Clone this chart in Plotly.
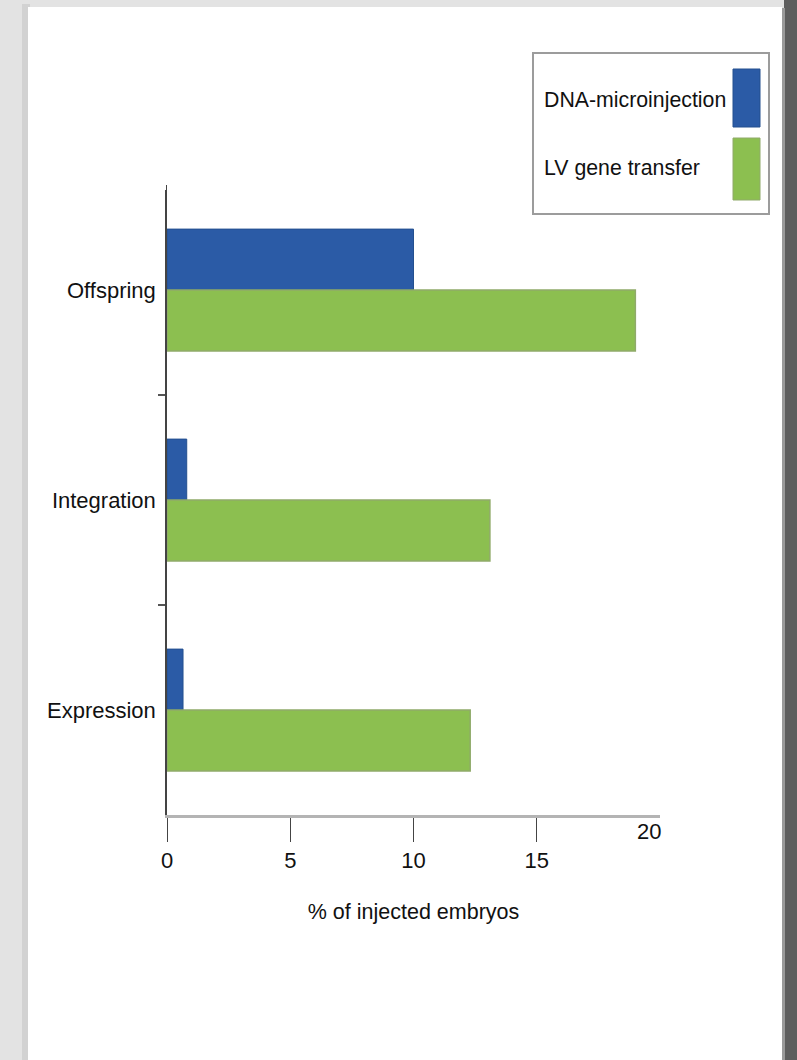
import plotly.graph_objects as go

# Data
categories = ["Offspring", "Integration", "Expression"]
dna_microinjection = [10.0, 0.8, 0.65]
lv_gene_transfer = [19.0, 13.1, 12.3]
x_ticks = [0, 5, 10, 15]
x_tick_labels = ["0", "5", "10", "15"]
series_names = ["DNA-microinjection", "LV gene transfer"]

BLUE = "#2B5BA6"
GREEN = "#8CBF50"
FONT = "Liberation Sans Narrow, Arial Narrow, Liberation Sans, Arial, sans-serif"

W, H = 797, 1060
ML, MR, MT, MB = 167, 137, 185, 245
PW, PH = W - ML - MR, H - MT - MB


def px(x):
    """Pixel column -> paper x."""
    return (x - ML) / PW


def py(y):
    """Pixel row -> paper y."""
    return (H - MB - y) / PH


fig = go.Figure()
fig.add_trace(go.Bar(
    y=categories, x=dna_microinjection, orientation="h", name=series_names[0],
    marker=dict(color=BLUE, line=dict(color="#24508F", width=1)),
    showlegend=False,
))
fig.add_trace(go.Bar(
    y=categories, x=lv_gene_transfer, orientation="h", name=series_names[1],
    marker=dict(color=GREEN, line=dict(color="#90AA6A", width=1.5)),
    showlegend=False,
))

shapes = [
    # page frame: light left margin, dark right edge, white card
    dict(type="rect", xref="paper", yref="paper", x0=px(0), x1=px(W), y0=py(H), y1=py(0),
         fillcolor="#E3E3E3", line_width=0, layer="below"),
    dict(type="rect", xref="paper", yref="paper", x0=px(22), x1=px(30), y0=py(H), y1=py(4),
         fillcolor="#D2D2D2", line_width=0, layer="below"),
    dict(type="rect", xref="paper", yref="paper", x0=px(784), x1=px(W), y0=py(H), y1=py(0),
         fillcolor="#5E5E5E", line_width=0, layer="below"),
    dict(type="rect", xref="paper", yref="paper", x0=px(780), x1=px(785), y0=py(H), y1=py(8),
         fillcolor="#9A9A9A", line_width=0, layer="below"),
    dict(type="rect", xref="paper", yref="paper", x0=px(28), x1=px(782), y0=py(H), y1=py(7),
         fillcolor="white", line_width=0, layer="below"),
    # hide the category tick at the top of the axis
    dict(type="rect", xref="paper", yref="paper", x0=px(155), x1=px(166), y0=py(190), y1=py(180),
         fillcolor="white", line_width=0, layer="above"),
    # legend box
    dict(type="rect", xref="paper", yref="paper", x0=px(533), x1=px(769), y0=py(214), y1=py(53),
         fillcolor="white", line=dict(color="#9C9C9C", width=2)),
    dict(type="rect", xref="paper", yref="paper", x0=px(733), x1=px(760), y0=py(127), y1=py(69),
         fillcolor=BLUE, line=dict(color="#24508F", width=1)),
    dict(type="rect", xref="paper", yref="paper", x0=px(733), x1=px(760), y0=py(200), y1=py(138),
         fillcolor=GREEN, line=dict(color="#90AA6A", width=1)),
]

annotations = [
    dict(xref="paper", yref="paper", x=px(542), y=py(100), text=series_names[0],
         showarrow=False, xanchor="left", yanchor="middle",
         font=dict(family=FONT, size=21.3, color="#111111")),
    dict(xref="paper", yref="paper", x=px(542), y=py(168), text=series_names[1],
         showarrow=False, xanchor="left", yanchor="middle",
         font=dict(family=FONT, size=21.3, color="#111111")),
    # last tick label of the value axis
    dict(xref="x", yref="paper", x=19.55, y=py(832), text="20",
         showarrow=False, xanchor="center", yanchor="middle",
         font=dict(family=FONT, size=22, color="#111111")),
]

fig.update_layout(
    width=W, height=H,
    margin=dict(l=ML, r=MR, t=MT, b=MB, pad=0),
    paper_bgcolor="white", plot_bgcolor="rgba(0,0,0,0)",
    barmode="group", bargap=0.42, bargroupgap=0.0,
    font=dict(family=FONT, size=22, color="#111111"),
    shapes=shapes, annotations=annotations,
    xaxis=dict(
        range=[0, 20], tickvals=x_ticks, ticktext=x_tick_labels,
        ticks="outside", ticklen=24, tickwidth=1, tickcolor="#444444",
        showline=True, linecolor="#B4B4B4", linewidth=3,
        showgrid=False, zeroline=False,
        tickfont=dict(family=FONT, size=22, color="#111111"),
        title=dict(text="% of injected embryos", standoff=32,
                   font=dict(family=FONT, size=21.5, color="#111111")),
    ),
    yaxis=dict(
        categoryorder="array", categoryarray=categories, autorange="reversed",
        tickson="boundaries", ticks="outside", ticklen=7, tickwidth=2, tickcolor="#555555",
        ticklabelstandoff=5,
        showline=True, linecolor="#444444", linewidth=1.5,
        showgrid=False, zeroline=False,
        tickfont=dict(family=FONT, size=22, color="#111111"),
    ),
)

fig.write_html("out.html")
